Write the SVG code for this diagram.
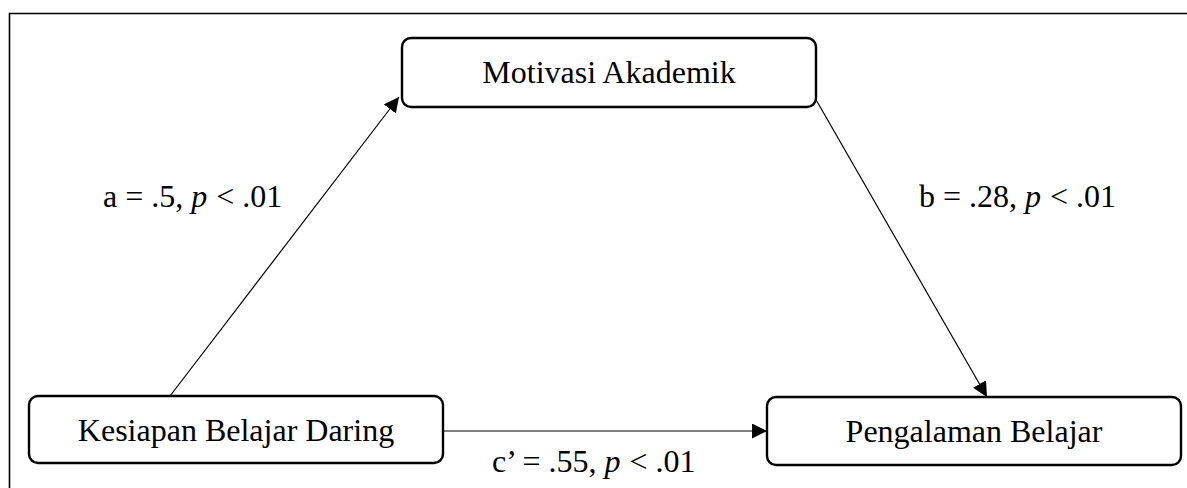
<svg xmlns="http://www.w3.org/2000/svg" width="1187" height="488" viewBox="0 0 1187 488">
<style>
.box{fill:#fff;stroke:#000;stroke-width:2.4}
.t{font-family:"Liberation Serif","Times New Roman",serif;font-size:32px;fill:#000}
.edge{stroke:#000;stroke-width:1.2;fill:none}
</style>
<defs>
<marker id="ah" viewBox="0 0 10 10" refX="10" refY="5" markerWidth="15" markerHeight="15" markerUnits="userSpaceOnUse" orient="auto">
<path d="M0,0 L10,5 L0,10 z" fill="#000"/>
</marker>
</defs>
<rect width="1187" height="488" fill="#fff"/>
<path d="M9.5,488 V13.5 H1187" fill="none" stroke="#000" stroke-width="1.6"/>
<g id="connectors">
<line class="edge" x1="170" y1="396" x2="399" y2="97" marker-end="url(#ah)"/>
<line class="edge" x1="815" y1="98" x2="987" y2="397" marker-end="url(#ah)"/>
<line class="edge" x1="443" y1="431" x2="767" y2="431" marker-end="url(#ah)"/>
<text class="t" x="103" y="207">a = .5, <tspan font-style="italic">p</tspan><tspan dx="9">&lt; .01</tspan></text>
<text class="t" x="919" y="207">b = .28, <tspan font-style="italic">p</tspan><tspan dx="9">&lt; .01</tspan></text>
<text class="t" x="492" y="472">c’ = .55, <tspan font-style="italic">p</tspan><tspan dx="9">&lt; .01</tspan></text>
</g>
<g id="motivasi">
<rect class="box" x="402" y="38" width="414" height="69" rx="9"/>
<text class="t" x="609" y="83" text-anchor="middle">Motivasi Akademik</text>
</g>
<g id="kesiapan">
<rect class="box" x="29" y="396" width="414" height="67" rx="9"/>
<text class="t" x="236" y="441" text-anchor="middle">Kesiapan Belajar Daring</text>
</g>
<g id="pengalaman">
<rect class="box" x="767" y="397" width="414" height="68" rx="9"/>
<text class="t" x="974" y="442" text-anchor="middle">Pengalaman Belajar</text>
</g>
</svg>
